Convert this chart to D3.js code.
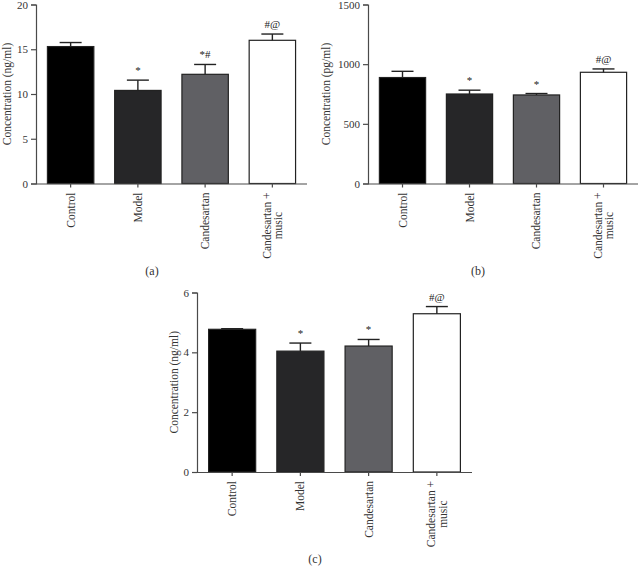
<!DOCTYPE html>
<html>
<head>
<meta charset="utf-8">
<script src="https://cdn.jsdelivr.net/npm/d3@7/dist/d3.min.js"></script>
<style>
  html, body { margin: 0; padding: 0; background: #fff; }
  svg { display: block; font-family: "Liberation Serif", "DejaVu Serif", serif; }
</style>
</head>
<body>
<svg id="chart" width="639" height="566"></svg>
<script>
// ---- data ----
const categories = ["Control", "Model", "Candesartan", "Candesartan +\nmusic"];
const barColors = ["#000000", "#262628", "#606064", "#ffffff"];

const valuesA = [15.3, 10.4, 12.2, 16.0];
const errorsA = [0.45, 1.15, 1.1, 0.7];
const marksA = ["", "*", "*#", "#@"];
const ticksA = [0, 5, 10, 15, 20];

const valuesB = [888, 750, 742, 932];
const errorsB = [52, 32, 12, 28];
const marksB = ["", "*", "*", "#@"];
const ticksB = [0, 500, 1000, 1500];

const valuesC = [4.77, 4.04, 4.21, 5.29];
const errorsC = [0.02, 0.27, 0.22, 0.24];
const marksC = ["", "*", "*", "#@"];
const ticksC = [0, 2, 4, 6];

const svg = d3.select("#chart");
const axisColor = "#4a4a4a";

function panel(opts) {
  const { x0, x1, yTop, yBottom, values, errors, marks, ticks, yLabel, yLabelX, letter, letterX, letterY } = opts;
  const g = svg.append("g");
  const x = d3.scaleBand().domain(categories).range([x0, x1]).paddingInner(0.31).paddingOuter(0.17);
  const y = d3.scaleLinear().domain([ticks[0], ticks[ticks.length - 1]]).range([yBottom, yTop]);

  // bars
  g.selectAll("rect.bar").data(categories).enter().append("rect")
    .attr("x", d => x(d)).attr("width", x.bandwidth())
    .attr("y", (d, i) => y(values[i]))
    .attr("height", (d, i) => y(0) - y(values[i]))
    .attr("fill", (d, i) => barColors[i])
    .attr("stroke", "#222").attr("stroke-width", 1.2);

  // error bars
  const capW = 22;
  categories.forEach((c, i) => {
    const cx = x(c) + x.bandwidth() / 2;
    g.append("line").attr("x1", cx).attr("x2", cx)
      .attr("y1", y(values[i])).attr("y2", y(values[i] + errors[i]))
      .attr("stroke", "#222").attr("stroke-width", 1.4);
    g.append("line").attr("x1", cx - capW / 2).attr("x2", cx + capW / 2)
      .attr("y1", y(values[i] + errors[i])).attr("y2", y(values[i] + errors[i]))
      .attr("stroke", "#222").attr("stroke-width", 1.4);
    if (marks[i]) {
      g.append("text").attr("x", cx).attr("y", y(values[i] + errors[i]) - 6)
        .attr("text-anchor", "middle").attr("font-size", 11).attr("fill", "#222")
        .text(marks[i]);
    }
  });

  // y axis
  const yAxis = g.append("g").attr("transform", `translate(${x0},0)`)
    .call(d3.axisLeft(y).tickValues(ticks).tickSize(5).tickPadding(3).tickFormat(d3.format("d")));
  yAxis.select(".domain").attr("stroke", axisColor).attr("stroke-width", 1.2);
  yAxis.selectAll(".tick line").attr("stroke", axisColor).attr("stroke-width", 1.2);
  yAxis.selectAll(".tick text").attr("font-size", 11).attr("fill", "#333")
    .attr("font-family", "Liberation Serif, serif");

  // x axis
  const xAxis = g.append("g").attr("transform", `translate(0,${yBottom})`)
    .call(d3.axisBottom(x).tickSize(4).tickFormat(""));
  xAxis.select(".domain").attr("stroke", axisColor).attr("stroke-width", 1.2).attr("d", `M${x0},0.5H${x1}`);
  xAxis.selectAll(".tick line").attr("stroke", axisColor).attr("stroke-width", 1.2);

  // category labels (rotated)
  categories.forEach(c => {
    const cx = x(c) + x.bandwidth() / 2;
    const lines = c.split("\n");
    const t = g.append("text")
      .attr("transform", `translate(${cx},${yBottom + 9}) rotate(-90)`)
      .attr("text-anchor", "end").attr("font-size", 11.5).attr("fill", "#333");
    const n = lines.length;
    lines.forEach((ln, k) => {
      t.append("tspan").attr("x", 0)
        .attr("y", (k - (n - 1) / 2) * 11.5 + 4)
        .attr("text-anchor", k === 0 ? "end" : "middle")
        .text(ln);
    });
    if (n > 1) {
      const first = t.select("tspan").node();
      const w = first.getComputedTextLength();
      t.selectAll("tspan").filter((d, k) => k > 0).attr("x", -w / 2);
    }
  });

  // y label
  g.append("text")
    .attr("transform", `translate(${yLabelX},${(yTop + yBottom) / 2}) rotate(-90)`)
    .attr("text-anchor", "middle").attr("font-size", 11.5).attr("fill", "#333")
    .text(yLabel);

  // panel letter
  g.append("text").attr("x", letterX).attr("y", letterY)
    .attr("text-anchor", "middle").attr("font-size", 12).attr("fill", "#333")
    .text(letter);
}

panel({ x0: 36, x1: 307, yTop: 4.5, yBottom: 183.5, values: valuesA, errors: errorsA, marks: marksA, ticks: ticksA,
  yLabel: "Concentration (ng/ml)", yLabelX: 11, letter: "(a)", letterX: 152, letterY: 275 });
panel({ x0: 368, x1: 638, yTop: 4.5, yBottom: 183.5, values: valuesB, errors: errorsB, marks: marksB, ticks: ticksB,
  yLabel: "Concentration (pg/ml)", yLabelX: 330, letter: "(b)", letterX: 478, letterY: 275 });
panel({ x0: 197, x1: 472, yTop: 292.5, yBottom: 472, values: valuesC, errors: errorsC, marks: marksC, ticks: ticksC,
  yLabel: "Concentration (ng/ml)", yLabelX: 178, letter: "(c)", letterX: 315, letterY: 563 });
</script>
</body>
</html>
